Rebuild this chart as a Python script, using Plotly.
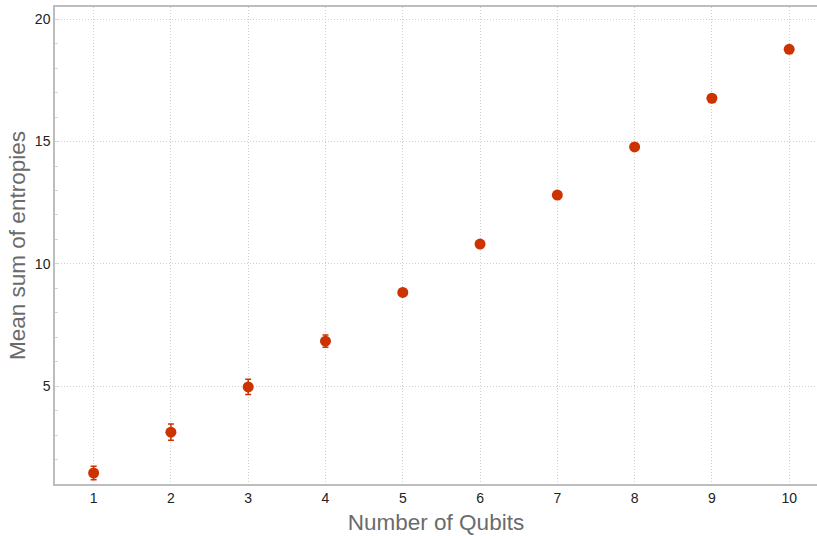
import plotly.graph_objects as go

# Mean sum of entropies versus number of qubits, with standard errors
qubits = [1, 2, 3, 4, 5, 6, 7, 8, 9, 10]
mean_entropy_sum = [1.45, 3.12, 4.97, 6.84, 8.83, 10.81, 12.81, 14.78, 16.77, 18.77]
error = [0.28, 0.33, 0.31, 0.25, 0.08, 0.06, 0.05, 0.04, 0.03, 0.03]

x_ticks = [1, 2, 3, 4, 5, 6, 7, 8, 9, 10]
y_ticks = [5, 10, 15, 20]

red = "#cc3300"
grid = "#cfcfcf"
spine = "#bdbdbd"

fig = go.Figure(
    go.Scatter(
        x=qubits,
        y=mean_entropy_sum,
        mode="markers",
        marker=dict(color=red, size=11),
        error_y=dict(type="data", array=error, color=red, thickness=1.5, width=3),
        showlegend=False,
    )
)

fig.update_layout(
    width=817,
    height=536,
    margin=dict(l=55, r=0, t=7, b=52),
    paper_bgcolor="white",
    plot_bgcolor="white",
    font=dict(family="Liberation Sans, Arial, sans-serif", color="#222222", size=14),
)

fig.update_xaxes(
    range=[0.5, 10.36],
    tickvals=x_ticks,
    ticktext=[str(v) for v in x_ticks],
    showgrid=True,
    gridcolor=grid,
    griddash="1px,2px",
    gridwidth=1,
    zeroline=False,
    showline=True,
    linecolor=spine,
    linewidth=1.5,
    mirror=True,
    ticks="",
    tickfont=dict(size=14, color="#222222"),
    title=dict(text="Number of Qubits", font=dict(size=22.5, color="#6b6b6b"), standoff=10),
)

fig.update_yaxes(
    range=[1.0, 20.5],
    tickvals=y_ticks,
    ticktext=[str(v) for v in y_ticks],
    showgrid=True,
    gridcolor=grid,
    griddash="1px,2px",
    gridwidth=1,
    zeroline=False,
    showline=True,
    linecolor=spine,
    linewidth=1.5,
    mirror=False,
    ticks="inside",
    ticklen=3,
    tickcolor="#d6d6d6",
    minor=dict(dtick=1, ticks="inside", ticklen=3, tickcolor="#d6d6d6", showgrid=False),
    tickfont=dict(size=14, color="#222222"),
    title=dict(text="Mean sum of entropies", font=dict(size=22.5, color="#6b6b6b"), standoff=3),
)

fig.write_html("out.html")
